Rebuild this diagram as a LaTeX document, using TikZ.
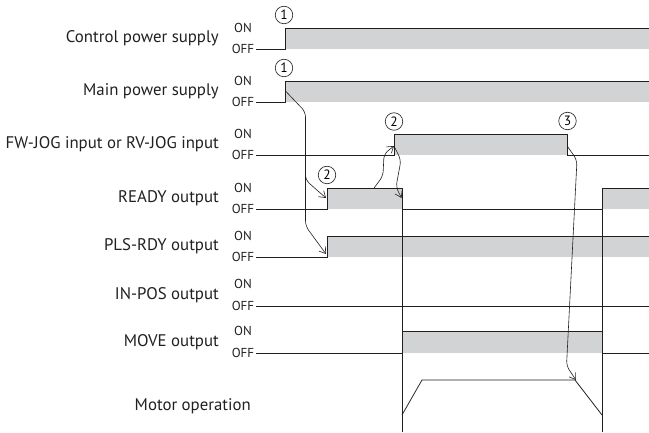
\documentclass[tikz,border=0pt]{standalone}
\usepackage{fontspec}
\setmainfont{PT Sans}
\definecolor{sigfill}{RGB}{209,211,212}
\definecolor{sigline}{RGB}{35,31,32}
\definecolor{sigtext}{RGB}{35,31,32}
\usetikzlibrary{arrows.meta,positioning}

\begin{document}
\begin{tikzpicture}[x=1pt,y=-1pt,
  siglabel/.style={anchor=east,inner sep=0pt,font=\fontsize{16.8}{19}\selectfont,text=sigtext},
  onoff/.style={inner sep=0pt,font=\fontsize{13}{14}\selectfont,text=sigtext},
  band/.style={fill=sigfill,draw=none},
  wave/.style={draw=sigline,line width=0.8pt},
  evnum/.style={circle,draw=sigline,line width=0.6pt,inner sep=0pt,minimum size=17.5pt,font=\fontsize{13.5}{13.5}\selectfont},
  cause/.style={draw=sigline,line width=0.6pt,rounded corners=5pt,-{Straight Barb[length=6pt,width=8pt]}}]
  \useasboundingbox (0,0) rectangle (649,433);
  % Signal names
  \node[siglabel] (ctrl) at (219,38.5) {Control power supply};
  \node[siglabel] (main) at (219,91.5) {Main power supply};
  \node[siglabel] (jog) at (219,144.5) {FW-JOG input or RV-JOG input};
  \node[siglabel] (ready) at (219,198.5) {READY output};
  \node[siglabel] (plsrdy) at (219,246.5) {PLS-RDY output};
  \node[siglabel] (inpos) at (219,295) {IN-POS output};
  \node[siglabel] (move) at (219,342) {MOVE output};
  \node[siglabel] (motor) at (251,406) {Motor operation};
  % ON / OFF levels
  \node[onoff] (ctrlOn) at (243,28) {ON};
  \node[onoff] (ctrlOff) at (243,49) {OFF};
  \node[onoff] (mainOn) at (243,81) {ON};
  \node[onoff] (mainOff) at (243,102) {OFF};
  \node[onoff] (jogOn) at (243,134) {ON};
  \node[onoff] (jogOff) at (243,155) {OFF};
  \node[onoff] (readyOn) at (243,188) {ON};
  \node[onoff] (readyOff) at (243,209) {OFF};
  \node[onoff] (plsrdyOn) at (243,236) {ON};
  \node[onoff] (plsrdyOff) at (243,257) {OFF};
  \node[onoff] (inposOn) at (243,284) {ON};
  \node[onoff] (inposOff) at (243,306) {OFF};
  \node[onoff] (moveOn) at (243,331) {ON};
  \node[onoff] (moveOff) at (243,353) {OFF};
  % ON bands
  \fill[band] (285,28) rectangle (649,49);
  \fill[band] (285,81) rectangle (649,102);
  \fill[band] (394,134) rectangle (567.5,155);
  \fill[band] (327,188) rectangle (402,209);
  \fill[band] (602,188) rectangle (649,209);
  \fill[band] (327,236) rectangle (649,257);
  \fill[band] (402,331) rectangle (602,353);
  % Waveforms
  \draw[wave] (256,49) -- (285,49) -- (285,28) -- (649,28);
  \draw[wave] (256,102) -- (285,102) -- (285,81) -- (649,81);
  \draw[wave] (256,155) -- (394,155) -- (394,134) -- (567.5,134) -- (567.5,155) -- (649,155);
  \draw[wave] (256,209) -- (327,209) -- (327,188) -- (402,188) -- (402,432);
  \draw[wave] (402,209) -- (602,209);
  \draw[wave] (602,432) -- (602,188) -- (649,188);
  \draw[wave] (256,257) -- (327,257) -- (327,236) -- (649,236);
  \draw[wave] (256,306) -- (649,306);
  \draw[wave] (256,353) -- (402,353) -- (402,331) -- (602,331) -- (602,353) -- (649,353);
  \draw[wave] (402,415) -- (422,380) -- (575,380) -- (602,415);
  % Event numbers
  \node[evnum] (n1a) at (284,15) {1};
  \node[evnum] (n1b) at (284,68) {1};
  \node[evnum] (n2a) at (394,121.5) {2};
  \node[evnum] (n2b) at (327,175) {2};
  \node[evnum] (n3) at (567.5,121) {3};
  % Cause points
  \coordinate (mainRise) at (285.5,91);
  \coordinate (readyRise) at (326,198);
  \coordinate (plsrdyRise) at (326,254);
  \coordinate (readyTop) at (374,188);
  \coordinate (jogRise) at (394,146);
  \coordinate (readyFall) at (401.5,198);
  \coordinate (jogFall) at (567.5,146.5);
  \coordinate (motorDecel) at (576,380);
  % Arrows
  \draw[cause] (mainRise) -- (305.5,112) -- (305.5,226) -- (plsrdyRise);
  \draw[cause] (305.5,170) -- (305.5,180) -- (readyRise);
  \draw[cause] (readyTop) -- (383,176) -- (384,154) -- (jogRise);
  \draw[cause] (jogRise) -- (401,160) -- (396,187) -- (readyFall);
  \draw[cause] (jogFall) -- (577,160) -- (566.5,366) -- (motorDecel);
\end{tikzpicture}
\end{document}
